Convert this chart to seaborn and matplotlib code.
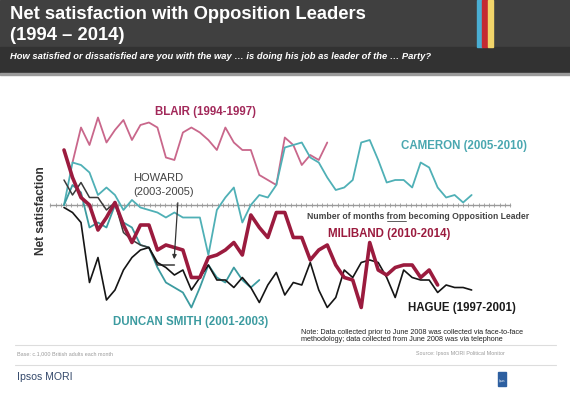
import numpy as np
import pandas as pd
import matplotlib
matplotlib.use("Agg")
import matplotlib.pyplot as plt
import seaborn as sns
from matplotlib.patches import Rectangle

# ── data: net satisfaction by month since becoming Opposition leader ────────
blair_start = 1
blair = [17, 31, 24, 35, 25, 30, 34, 26, 32, 33, 31, 19, 18, 29, 31, 29,
         26, 22, 31, 25, 22, 22, 12, 10, 8, 27, 24, 16, 20, 18, 25]

cameron_start = 0
cameron = [0, 17, 16, 13, 4, 7, 4, -2, 2, -1, -2, -3, -5, -3, -5, -5, -5,
           -20, -2, 3, 7, -7, 0, 4, 3, 8, 23, 24, 25, 19, 17, 11, 6, 7, 10,
           25, 26, 18, 9, 10, 10, 7, 17, 15, 7, 3, 4, 1, 4]

ids_start = 0
duncan_smith = [0, 8, 5, -9, -7, -9, 0, -7, -9, -16, -17, -25, -31, -33,
                -35, -41, -33, -24, -29, -31, -25, -30, -33, -30]

howard_start = 0
howard = [10, 4, 9, 3, 3, -2, 1, -11, -14, -16, -17, -24, -24, -24]

hague_start = 0
hague = [-1, -3, -7, -31, -21, -38, -34, -26, -21, -18, -17, -23, -25, -28,
         -26, -34, -29, -24, -30, -30, -33, -29, -33, -39, -32, -27, -36,
         -31, -32, -23, -34, -41, -37, -26, -29, -23, -22, -23, -29, -37,
         -26, -29, -30, -30, -35, -32, -33, -33, -34]

miliband_start = 0
miliband = [22, 11, 3, 0, -10, -5, 1, -8, -15, -8, -8, -18, -16, -17, -18,
            -29, -29, -21, -20, -18, -15, -20, -4, -9, -13, -3, -3, -13, -13,
            -22, -18, -16, -24, -29, -30, -41, -15, -26, -28, -25, -24, -24,
            -29, -26, -32]

leaders = ["BLAIR", "CAMERON", "DUNCAN SMITH", "HOWARD", "HAGUE", "MILIBAND"]
series = [blair, cameron, duncan_smith, howard, hague, miliband]
starts = [blair_start, cameron_start, ids_start, howard_start, hague_start,
          miliband_start]

rows = []
for name, vals, s in zip(leaders, series, starts):
    for i, v in enumerate(vals):
        rows.append({"leader": name, "month": s + i, "net": v})
df = pd.DataFrame(rows)

colors = {"BLAIR": "#c9678b", "CAMERON": "#4fb0b6", "DUNCAN SMITH": "#3c9ba0",
          "HOWARD": "#3a3a3a", "HAGUE": "#151515", "MILIBAND": "#9b1b3e"}
widths = {"BLAIR": 1.3, "CAMERON": 1.3, "DUNCAN SMITH": 1.3,
          "HOWARD": 1.1, "HAGUE": 1.2, "MILIBAND": 2.6}

# ── figure ──────────────────────────────────────────────────────────────────
sns.set_theme(style="white")
plt.rcParams["font.family"] = ["Liberation Sans", "DejaVu Sans"]

W, H = 570, 394
fig = plt.figure(figsize=(W / 100, H / 100), dpi=100)
fig.patch.set_facecolor("white")


def fx(px):
    return px / W


def fy(py):
    return 1 - py / H


# header band
fig.add_artist(Rectangle((0, fy(47)), 1, 47 / H, transform=fig.transFigure,
                         color="#404040", zorder=0))
fig.add_artist(Rectangle((0, fy(73)), 1, 26 / H, transform=fig.transFigure,
                         color="#323232", zorder=0))
fig.add_artist(Rectangle((0, fy(75)), 1, 2 / H, transform=fig.transFigure,
                         color="#9a9a9a", zorder=0))
for x0, c in [(477, "#4aaed3"), (482.3, "#c42a32"), (487.7, "#f2d56a")]:
    fig.add_artist(Rectangle((fx(x0), fy(46.5)), 5.4 / W, 46.5 / H,
                             transform=fig.transFigure, color=c, zorder=1))

fig.text(fx(10), fy(19), "Net satisfaction with Opposition Leaders",
         color="white", fontsize=13.2, fontweight="bold", va="baseline")
fig.text(fx(10), fy(40), "(1994 \u2013 2014)",
         color="white", fontsize=13.2, fontweight="bold", va="baseline")
fig.text(fx(10), fy(59),
         "How satisfied or dissatisfied are you with the way \u2026 is doing "
         "his job as leader of the \u2026 Party?",
         color="white", fontsize=6.75, fontweight="bold", style="italic",
         va="baseline")

# ── chart ───────────────────────────────────────────────────────────────────
ax = fig.add_axes([fx(50), fy(330), 460 / W, 240 / H])
ax.set_facecolor("none")

for name in leaders:
    sub = df[df["leader"] == name]
    sns.lineplot(data=sub, x="month", y="net", ax=ax, color=colors[name],
                 lw=widths[name], legend=False)

ax.set_xlim(-1.65, 52.5)
ax.set_ylim(-50, 46)
for side in ["top", "right", "left"]:
    ax.spines[side].set_visible(False)
ax.spines["bottom"].set_position(("data", 0))
ax.spines["bottom"].set_color("#9a9a9a")
ax.spines["bottom"].set_linewidth(1.0)
ax.spines["bottom"].set_zorder(0)
ax.set_xticks(np.arange(-1.6, 52.6, 0.615))
ax.set_xticklabels([])
ax.set_yticks([])
ax.tick_params(axis="x", direction="inout", length=3.5, width=0.6,
               color="#9a9a9a", bottom=True)
ax.set_xlabel("")
ax.set_ylabel("")

fig.text(fx(41), fy(211), "Net satisfaction", rotation=90, ha="center",
         va="center", fontsize=8.6, fontweight="bold", color="#333333")

# x axis caption with "from" underlined
cap_x, cap_y = fx(307), fy(219)
part1 = "Number of months "
cap = fig.text(cap_x, cap_y, part1 + "from becoming Opposition Leader",
               fontsize=6.2, fontweight="bold", color="#444444",
               va="baseline")
renderer = fig.canvas.get_renderer()
t1 = fig.text(cap_x, cap_y, part1, fontsize=6.2, fontweight="bold")
t2 = fig.text(cap_x, cap_y, part1 + "from", fontsize=6.2, fontweight="bold")
b1 = t1.get_window_extent(renderer)
b2 = t2.get_window_extent(renderer)
t1.remove()
t2.remove()
fig.add_artist(plt.Line2D([b1.x1 / W, b2.x1 / W], [fy(220.5), fy(220.5)],
                          transform=fig.transFigure, color="#444444", lw=0.6))

# leader labels
lab = dict(fontsize=8.3, fontweight="bold", va="center")
fig.text(fx(155), fy(112), "BLAIR (1994-1997)", color="#a2295a", **lab)
fig.text(fx(401), fy(146), "CAMERON (2005-2010)", color="#4aa7b0", **lab)
fig.text(fx(133), fy(178), "HOWARD", color="#444444", fontsize=8,
         va="center")
fig.text(fx(133), fy(192), "(2003-2005)", color="#444444", fontsize=8,
         va="center")
fig.text(fx(328), fy(234), "MILIBAND (2010-2014)", color="#9b1b3e", **lab)
fig.text(fx(408), fy(308), "HAGUE (1997-2001)", color="#1a1a1a", **lab)
fig.text(fx(113), fy(322), "DUNCAN SMITH (2001-2003)", color="#3c9ba0", **lab)

ax.annotate("", xy=(fx(174), fy(262)), xycoords="figure fraction",
            xytext=(fx(178), fy(200)), textcoords="figure fraction",
            arrowprops=dict(arrowstyle="-|>", color="#333333", lw=0.9,
                            mutation_scale=6))

# notes and footer
fig.text(fx(301), fy(333), "Note: Data collected prior to June 2008 was "
         "collected via face-to-face", fontsize=5.2, color="#222222",
         va="center")
fig.text(fx(301), fy(339.5), "methodology; data collected from June 2008 "
         "was via telephone", fontsize=5.2, color="#222222", va="center")

fig.add_artist(plt.Line2D([fx(15), fx(556)], [fy(345), fy(345)],
                          transform=fig.transFigure, color="#dddddd", lw=0.8))
fig.text(fx(17), fy(354), "Base: c.1,000 British adults each month",
         fontsize=3.9, color="#9a9a9a", va="center")
fig.text(fx(505), fy(354), "Source: Ipsos MORI Political Monitor",
         fontsize=3.9, color="#9a9a9a", va="center", ha="right")
fig.add_artist(plt.Line2D([fx(15), fx(556)], [fy(365), fy(365)],
                          transform=fig.transFigure, color="#dddddd", lw=0.8))
fig.text(fx(17), fy(377), "Ipsos MORI", fontsize=7.6, color="#34496b",
         va="center")
fig.add_artist(Rectangle((fx(498), fy(386)), 8 / W, 14 / H,
                         transform=fig.transFigure, color="#2d5fa0"))
fig.text(fx(502), fy(381), "Ipsos", fontsize=2, color="white", ha="center",
         va="center")

plt.savefig("out.png", dpi=100)
